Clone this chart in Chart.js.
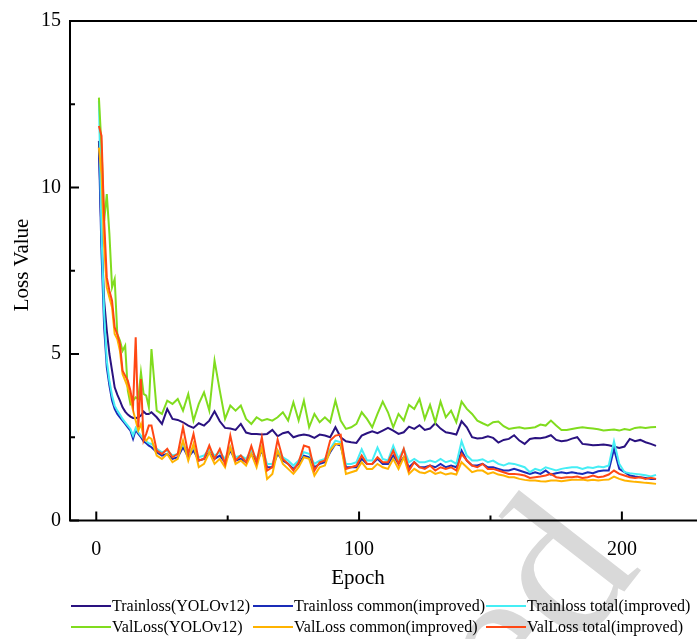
<!DOCTYPE html>
<html>
<head>
<meta charset="utf-8">
<script src="https://cdn.jsdelivr.net/npm/chart.js@4.4.1/dist/chart.umd.min.js"></script>
<style>
  html, body { margin: 0; padding: 0; background: #fff; }
  body { width: 697px; height: 639px; overflow: hidden; position: relative; }
  #wm { position: absolute; left: 382px; top: 616px; font: 210px 'Liberation Serif', serif; line-height: 1;
        color: #d9d9d9; transform: rotate(-52deg); transform-origin: 0 0; white-space: nowrap; }
  #c { position: absolute; left: 0; top: 0; }
  #legend { position: absolute; left: 0; top: 0; width: 697px; height: 639px; pointer-events: none;
            font: 16px 'Liberation Serif', serif; color: #000; }
  .item { position: absolute; white-space: nowrap; line-height: 20px; }
  .swatch { position: absolute; height: 2px; }
</style>
</head>
<body>
<div id="wm">ed</div>
<canvas id="c" width="727" height="639"></canvas>
<div id="legend"></div>
<script>
// x values (epochs); every epoch at the start, every 2nd afterwards
const epochs = [1,2,3,4,5,6,7,8,9,10,11,12,13,14,15,16,17,18,19,20,
  21,23,25,27,29,31,33,35,37,39, 41,43,45,47,49,51,53,55,57,59,
  61,63,65,67,69,71,73,75,77,79, 81,83,85,87,89,91,93,95,97,99,
  101,103,105,107,109,111,113,115,117,119, 121,123,125,127,129,131,133,135,137,139,
  141,143,145,147,149,151,153,155,157,159, 161,163,165,167,169,171,173,175,177,179,
  181,183,185,187,189,191,193,195,197,199, 201,203,205,207,209,211,213];

const trainYolo = [11.4,8.5,6.6,5.7,5.0,4.5,4.0,3.78,3.6,3.4,3.27,3.18,3.12,3.08,3.07,3.1,3.15,3.27,3.2,3.2,
  3.25,3.1,2.9,3.35,3.05,3.02,2.95,2.85,2.78,2.92, 2.85,3.0,3.28,2.98,2.78,2.76,2.72,2.9,2.64,2.6,
  2.6,2.58,2.6,2.72,2.53,2.62,2.66,2.5,2.55,2.58, 2.55,2.48,2.58,2.55,2.5,2.8,2.5,2.38,2.35,2.33,
  2.55,2.62,2.68,2.62,2.7,2.78,2.7,2.6,2.65,2.82, 2.75,2.86,2.72,2.76,2.92,2.76,2.65,2.62,2.58,2.98,
  2.8,2.5,2.46,2.48,2.53,2.48,2.34,2.42,2.45,2.56, 2.4,2.3,2.45,2.48,2.47,2.5,2.56,2.42,2.38,2.4,
  2.46,2.5,2.3,2.28,2.26,2.27,2.28,2.26,2.22,2.18, 2.22,2.45,2.38,2.42,2.35,2.3,2.24];

const trainCommon = [11.2,8.0,5.8,4.6,4.05,3.6,3.35,3.2,3.1,3.0,2.9,2.8,2.7,2.45,2.72,2.6,2.5,2.38,2.32,2.25,
  2.2,2.05,1.95,2.0,1.85,1.9,2.2,1.9,2.1,1.8, 1.85,2.05,1.85,1.95,1.75,2.1,1.8,1.85,1.75,2.0,
  1.75,2.1,1.6,1.6,2.0,1.8,1.7,1.55,1.7,1.95, 1.9,1.6,1.7,1.75,2.05,2.3,2.25,1.6,1.6,1.6,
  1.85,1.7,1.7,1.85,1.7,1.7,1.95,1.7,1.9,1.6, 1.75,1.6,1.6,1.65,1.6,1.7,1.6,1.65,1.6,2.1,
  1.8,1.65,1.65,1.7,1.6,1.6,1.55,1.5,1.5,1.55, 1.5,1.45,1.4,1.45,1.4,1.5,1.38,1.42,1.45,1.42,
  1.45,1.42,1.4,1.45,1.42,1.48,1.5,1.5,2.15,1.55, 1.45,1.35,1.32,1.3,1.28,1.25,1.25];

const trainTotal = [12.6,8.6,6.2,4.8,4.2,3.75,3.45,3.3,3.18,3.05,2.95,2.85,2.75,2.55,2.78,2.65,2.55,2.45,2.38,2.32,
  2.3,2.15,2.05,2.1,1.95,2.0,2.3,2.0,2.2,1.9, 1.95,2.15,1.95,2.05,1.85,2.2,1.9,1.95,1.85,2.1,
  1.85,2.2,1.7,1.7,2.1,1.9,1.8,1.65,1.8,2.05, 2.0,1.7,1.8,1.85,2.15,2.4,2.35,1.7,1.7,1.75,
  2.14,1.8,1.8,2.19,1.85,1.8,2.24,1.85,2.15,1.75, 1.85,1.75,1.75,1.8,1.75,1.85,1.75,1.8,1.7,2.38,
  1.95,1.8,1.8,1.84,1.75,1.8,1.7,1.65,1.72,1.7, 1.65,1.6,1.45,1.55,1.5,1.6,1.55,1.5,1.55,1.58,
  1.6,1.6,1.55,1.6,1.58,1.62,1.6,1.65,2.38,1.7, 1.45,1.42,1.4,1.38,1.36,1.32,1.37];

const valYolo = [12.7,11.2,9.0,9.8,8.6,7.0,7.25,5.6,5.4,5.1,5.25,3.9,3.5,3.6,3.7,3.65,4.45,3.8,3.75,3.4,
  5.15,3.3,3.2,3.6,3.5,3.65,3.3,3.8,3.0,3.5, 3.85,3.3,4.8,3.9,3.05,3.45,3.3,3.45,3.05,2.9,
  3.1,3.0,3.05,3.0,3.1,3.25,3.0,3.55,3.0,3.6, 2.8,3.2,2.95,3.1,2.95,3.6,3.0,2.75,2.8,2.9,
  3.25,3.05,2.8,3.2,3.57,3.25,2.8,3.2,3.0,3.47, 3.35,3.65,3.05,3.47,2.95,3.57,3.1,3.3,2.95,3.57,
  3.35,3.2,3.0,2.92,2.85,2.95,2.97,2.83,2.75,2.78, 2.8,2.76,2.78,2.8,2.88,2.85,3.0,2.85,2.72,2.72,
  2.75,2.78,2.8,2.78,2.76,2.74,2.7,2.72,2.73,2.7, 2.75,2.72,2.78,2.8,2.78,2.8,2.81];

const valCommon = [11.2,10.4,8.2,7.0,6.7,6.4,5.6,5.45,5.1,4.4,4.2,4.0,3.7,3.3,3.0,2.7,2.9,2.5,2.4,2.5,
  2.45,1.95,1.85,2.0,1.75,1.85,2.4,1.8,2.3,1.6, 1.7,2.05,1.7,1.85,1.6,2.2,1.7,1.8,1.65,2.0,
  1.6,2.2,1.25,1.4,2.1,1.7,1.55,1.4,1.6,1.9, 1.85,1.35,1.6,1.65,2.1,2.3,2.3,1.4,1.45,1.5,
  1.75,1.55,1.55,1.7,1.6,1.55,1.85,1.55,1.9,1.4, 1.55,1.45,1.42,1.5,1.4,1.45,1.38,1.42,1.38,1.75,
  1.6,1.45,1.5,1.5,1.4,1.45,1.38,1.35,1.3,1.3, 1.25,1.22,1.2,1.2,1.18,1.17,1.2,1.2,1.18,1.2,
  1.22,1.22,1.23,1.2,1.22,1.2,1.22,1.23,1.32,1.25, 1.2,1.18,1.16,1.15,1.13,1.12,1.1];

const valTotal = [11.85,11.55,9.0,7.3,6.9,6.6,5.8,5.6,5.3,4.5,4.35,4.2,3.9,3.45,5.5,2.8,4.25,2.4,2.6,2.85,
  2.85,2.1,2.0,2.15,1.9,2.0,2.8,2.0,2.6,1.8, 1.85,2.25,1.85,2.15,1.7,2.55,1.8,1.95,1.75,2.24,
  1.75,2.5,1.5,1.6,2.43,1.85,1.7,1.5,1.75,2.25, 2.2,1.5,1.75,1.8,2.4,2.55,2.58,1.55,1.6,1.65,
  1.95,1.7,1.7,1.9,1.75,1.75,2.1,1.7,2.15,1.5, 1.75,1.6,1.55,1.65,1.5,1.6,1.55,1.6,1.5,2.0,
  1.8,1.65,1.6,1.7,1.55,1.55,1.5,1.45,1.4,1.4, 1.38,1.35,1.28,1.3,1.32,1.35,1.4,1.3,1.28,1.3,
  1.3,1.32,1.28,1.3,1.35,1.3,1.32,1.38,1.5,1.4, 1.35,1.3,1.28,1.3,1.25,1.28,1.25];

const seriesNames = ['Trainloss(YOLOv12)', 'Trainloss common(improved)', 'Trainloss total(improved)',
  'ValLoss(YOLOv12)', 'ValLoss common(improved)', 'ValLoss total(improved)'];
const seriesData = [trainYolo, trainCommon, trainTotal, valYolo, valCommon, valTotal];
const seriesColors = ['#2a1280', '#1a2cb8', '#45eef5', '#80dc1e', '#ffb300', '#ff4714'];

const xTicks = [0, 100, 200];
const xMinor = [50, 150];
const yTicks = [0, 5, 10, 15];
const yMinor = [2.5, 7.5, 12.5];

const serif = "'Liberation Serif', 'Times New Roman', serif";

// frame, inward ticks, axis titles
const framePlugin = {
  id: 'frame',
  afterDraw(chart) {
    const { ctx, chartArea: a, scales: { x, y } } = chart;
    ctx.save();
    ctx.strokeStyle = '#000';
    ctx.lineWidth = 2;
    ctx.strokeRect(a.left, a.top, a.right - a.left, a.bottom - a.top);
    ctx.beginPath();
    xTicks.forEach(v => { const px = x.getPixelForValue(v); ctx.moveTo(px, a.bottom); ctx.lineTo(px, a.bottom - 9); });
    xMinor.forEach(v => { const px = x.getPixelForValue(v); ctx.moveTo(px, a.bottom); ctx.lineTo(px, a.bottom - 5); });
    yTicks.forEach(v => { const py = y.getPixelForValue(v); ctx.moveTo(a.left, py); ctx.lineTo(a.left + 9, py); });
    yMinor.forEach(v => { const py = y.getPixelForValue(v); ctx.moveTo(a.left, py); ctx.lineTo(a.left + 5, py); });
    ctx.stroke();

    ctx.fillStyle = '#000';
    ctx.font = '21px ' + serif;
    ctx.textAlign = 'center';
    ctx.textBaseline = 'middle';
    ctx.fillText('Epoch', 358, 578);
    ctx.translate(22, 265);
    ctx.rotate(-Math.PI / 2);
    ctx.fillText('Loss Value', 0, 0);
    ctx.restore();
  }
};

new Chart(document.getElementById('c'), {
  type: 'line',
  data: {
    datasets: seriesData.map((vals, i) => ({
      label: seriesNames[i],
      data: epochs.map((e, j) => ({ x: e, y: vals[j] })),
      borderColor: seriesColors[i],
      backgroundColor: seriesColors[i],
      borderWidth: 2,
      pointRadius: 0,
      tension: 0,
      fill: false,
      order: seriesData.length - i
    }))
  },
  options: {
    responsive: false,
    animation: false,
    events: [],
    layout: { padding: { top: 14, right: 0, left: 0, bottom: 0 } },
    plugins: { legend: { display: false }, tooltip: { enabled: false } },
    scales: {
      x: {
        type: 'linear', min: -10, max: 240,
        grid: { display: false, drawTicks: false },
        border: { display: false },
        afterBuildTicks: s => { s.ticks = xTicks.map(v => ({ value: v })); },
        afterFit: s => { s.height = 118.5; },
        ticks: { color: '#000', font: { family: serif, size: 20 }, padding: 17, maxRotation: 0 }
      },
      y: {
        type: 'linear', min: 0, max: 15,
        grid: { display: false, drawTicks: false },
        border: { display: false },
        afterBuildTicks: s => { s.ticks = yTicks.map(v => ({ value: v })); },
        afterFit: s => { s.width = 70; },
        ticks: { color: '#000', font: { family: serif, size: 20 }, padding: 9 }
      }
    }
  },
  plugins: [framePlugin]
});

// legend: two rows of three aligned columns
const legendCols = [71, 253, 486];
const legendRows = [606, 627];
const swatchLen = 40;
const legend = document.getElementById('legend');
seriesNames.forEach((name, i) => {
  const col = i % 3, row = Math.floor(i / 3);
  const sw = document.createElement('div');
  sw.className = 'swatch';
  sw.style.left = legendCols[col] + 'px';
  sw.style.top = (legendRows[row] - 1) + 'px';
  sw.style.width = swatchLen + 'px';
  sw.style.background = seriesColors[i];
  legend.appendChild(sw);
  const t = document.createElement('div');
  t.className = 'item';
  t.textContent = name;
  t.style.left = (legendCols[col] + swatchLen + 1) + 'px';
  t.style.top = (legendRows[row] - 10) + 'px';
  legend.appendChild(t);
});
</script>
</body>
</html>
